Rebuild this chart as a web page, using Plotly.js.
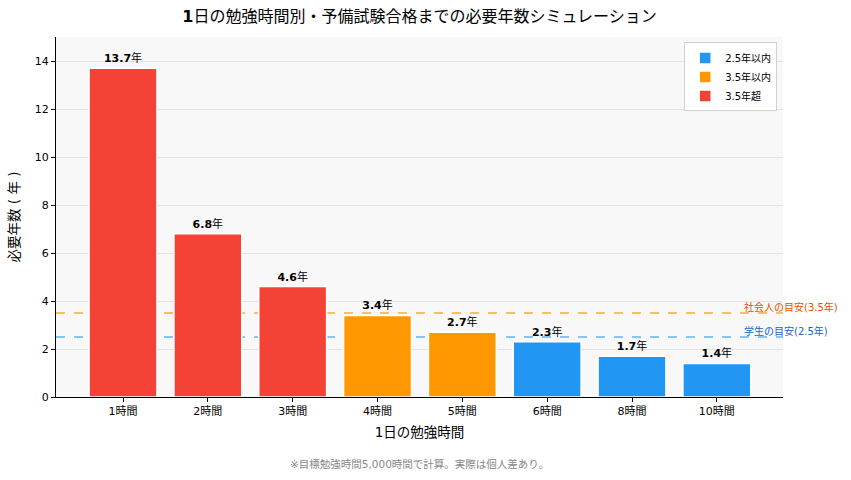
<!DOCTYPE html>
<html>
<head>
<meta charset="utf-8">
<script src="https://cdn.plot.ly/plotly-3.0.1.min.js"></script>
<style>
  html, body { margin: 0; padding: 0; background: #ffffff; }
  #chart { width: 851px; height: 480px; }
</style>
</head>
<body>
<div id="chart"></div>
<script>
// Daily study hours and the years needed to reach 5,000 hours
const categories = ["1時間", "2時間", "3時間", "4時間", "5時間", "6時間", "8時間", "10時間"];
const years = [13.7, 6.8, 4.6, 3.4, 2.7, 2.3, 1.7, 1.4];
const groupNames = ["2.5年以内", "3.5年以内", "3.5年超"];
const groupColors = ["#2196F3", "#FF9800", "#F44336"];
const refLevels = [3.5, 2.5];
const refLabels = ["社会人の目安(3.5年)", "学生の目安(2.5年)"];
const refLineColors = ["rgba(255,152,0,0.8)", "rgba(33,150,243,0.7)"];
const refTextColors = ["#E65100", "#1565C0"];
const yTicks = [0, 2, 4, 6, 8, 10, 12, 14];

const FONT = "DejaVu Sans, Noto Sans CJK JP, sans-serif";

function groupOf(v) {
  if (v <= 2.5) return 0;
  if (v <= 3.5) return 1;
  return 2;
}

const idx = categories.map((_, i) => i);
const traces = groupNames.map((name, g) => {
  const sel = idx.filter(i => groupOf(years[i]) === g);
  return {
    type: "bar",
    name: name,
    x: sel.map(i => i),
    y: sel.map(i => years[i]),
    width: 0.8,
    marker: { color: groupColors[g], line: { color: "#ffffff", width: 1.5 } },
    text: sel.map(i => "<b>" + years[i].toFixed(1) + "</b>年"),
    textposition: "outside",
    textfont: { family: FONT, size: 11, color: "#000000" },
    cliponaxis: false,
    hoverinfo: "skip"
  };
});

const shapes = refLevels.map((lv, k) => ({
  type: "line", xref: "paper", x0: 0, x1: 1, yref: "y", y0: lv, y1: lv,
  line: { color: refLineColors[k], width: 1.5, dash: "dash" },
  layer: "below"
}));

const annotations = refLevels.map((lv, k) => ({
  x: 7.3, y: lv, xref: "x", yref: "y",
  text: refLabels[k], showarrow: false,
  xanchor: "left", yanchor: "bottom", yshift: -2,
  font: { family: FONT, size: 10, color: refTextColors[k] }
}));

annotations.push({
  xref: "paper", yref: "paper", x: 0.5, y: -0.163,
  xanchor: "center", yanchor: "top", showarrow: false,
  text: "※目標勉強時間5,000時間で計算。実際は個人差あり。",
  font: { family: FONT, size: 10.5, color: "#888888" }
});

const layout = {
  width: 851, height: 480,
  margin: { l: 56, r: 68, t: 37, b: 83 },
  paper_bgcolor: "#ffffff",
  plot_bgcolor: "#f8f8f8",
  barmode: "overlay",
  bargap: 0.2,
  title: {
    text: "<b>1</b>日の勉強時間別・予備試験合格までの必要年数シミュレーション",
    font: { family: FONT, size: 16, color: "#000000" },
    xref: "paper", x: 0.5, xanchor: "center", y: 0.966, yanchor: "middle"
  },
  xaxis: {
    range: [-0.79, 7.78],
    tickmode: "array",
    tickvals: idx,
    ticktext: categories,
    ticks: "outside", ticklen: 4, tickcolor: "#000",
    showgrid: false, zeroline: false,
    showline: true, linecolor: "#000", linewidth: 1,
    tickfont: { family: FONT, size: 11, color: "#000" },
    title: { text: "1日の勉強時間", font: { family: FONT, size: 13.5, color: "#000" }, standoff: 10 }
  },
  yaxis: {
    range: [0, 15],
    tickmode: "array",
    tickvals: yTicks,
    ticks: "outside", ticklen: 4, tickcolor: "#000",
    showgrid: true, gridcolor: "#e2e2e2", gridwidth: 1,
    zeroline: false,
    showline: true, linecolor: "#000", linewidth: 1,
    tickfont: { family: FONT, size: 11, color: "#000" },
    title: { text: "必要年数 ( 年 )", font: { family: FONT, size: 13.5, color: "#000" }, standoff: 12 }
  },
  legend: {
    x: 0.992, y: 0.985, xanchor: "right", yanchor: "top",
    bgcolor: "rgba(255,255,255,0.9)",
    bordercolor: "#d0d0d0", borderwidth: 1,
    font: { family: FONT, size: 10, color: "#000" },
    traceorder: "normal",
    tracegroupgap: 0,
    itemwidth: 30
  },
  shapes: shapes,
  annotations: annotations,
  showlegend: true
};

Plotly.newPlot("chart", traces, layout, { displayModeBar: false, staticPlot: true });
</script>
</body>
</html>
